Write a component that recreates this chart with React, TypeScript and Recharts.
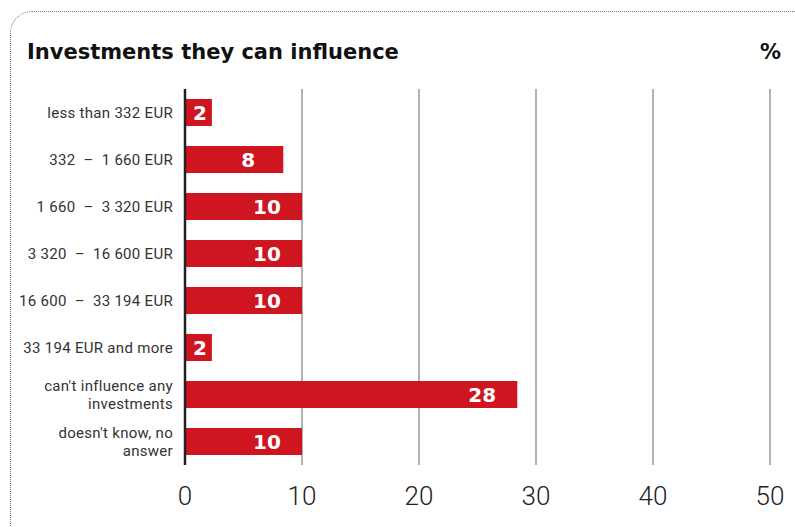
import { BarChart, Bar, XAxis, YAxis, CartesianGrid, LabelList } from "recharts";

const categories = [
  "less than 332 EUR",
  "332  –  1 660 EUR",
  "1 660  –  3 320 EUR",
  "3 320  –  16 600 EUR",
  "16 600  –  33 194 EUR",
  "33 194 EUR and more",
  "can't influence any\ninvestments",
  "doesn't know, no\nanswer",
];
const shares = [2.3, 8.4, 10, 10, 10, 2.3, 28.4, 10];
const xTicks = [0, 10, 20, 30, 40, 50];

const data = categories.map((name, i) => ({ name, value: shares[i] }));

const CategoryTick = (props: any) => {
  const { x, y, payload } = props;
  const lines = String(payload.value).split("\n");
  const lh = 18;
  const start = -((lines.length - 1) * lh) / 2;
  return (
    <text
      x={x}
      y={y}
      textAnchor="end"
      fill="#333"
      fontSize={15}
      letterSpacing={0.3}
      fontFamily="Roboto, sans-serif"
      style={{ whiteSpace: "pre" }}
    >
      {lines.map((l, i) => (
        <tspan key={i} x={x} dy={i === 0 ? start : lh} dominantBaseline="central">
          {l}
        </tspan>
      ))}
    </text>
  );
};

const BarValue = (props: any) => {
  const { x, y, width, height, value } = props;
  const w = Number(width);
  const short = w < 50;
  return (
    <text
      x={short ? x + 8 : x + w - 35}
      y={y + height / 2}
      dy="0.36em"
      textAnchor={short ? "start" : "middle"}
      fill="#fff"
      fontSize={20}
      fontWeight="bold"
      fontFamily="'DejaVu Sans', sans-serif"
    >
      {Math.round(value)}
    </text>
  );
};

export default function App() {
  return (
    <div
      style={{
        position: "absolute",
        left: 0,
        top: 0,
        width: 795,
        height: 527,
        overflow: "hidden",
        background: "#fff",
      }}
    >
      <div
        style={{
          position: "absolute",
          left: 10,
          top: 11,
          width: 900,
          height: 560,
          border: "1px dotted #777",
          borderRadius: 22,
        }}
      />
      <div
        style={{
          position: "absolute",
          left: 27,
          top: 40,
          fontFamily: "'DejaVu Sans', sans-serif",
          fontWeight: "bold",
          fontSize: 21,
          color: "#111",
        }}
      >
        Investments they can influence
      </div>
      <div
        style={{
          position: "absolute",
          left: 760,
          top: 40,
          fontFamily: "'DejaVu Sans', sans-serif",
          fontWeight: "bold",
          fontSize: 21,
          color: "#111",
        }}
      >
        %
      </div>
      <div style={{ position: "absolute", left: 0, top: 0 }}>
        <BarChart
          width={795}
          height={527}
          data={data}
          layout="vertical"
          margin={{ top: 89, right: 25, bottom: 0, left: 0 }}
        >
          <CartesianGrid horizontal={false} stroke="#999" strokeWidth={1.5} />
          <XAxis
            type="number"
            domain={[0, 50]}
            ticks={xTicks}
            axisLine={false}
            tickLine={false}
            tickSize={0}
            tickMargin={22}
            height={62}
            tick={{ fontSize: 26, fill: "#222", fontFamily: "Roboto, sans-serif", fontWeight: 300 }}
          />
          <YAxis
            type="category"
            dataKey="name"
            width={185}
            tickLine={false}
            tickSize={0}
            tickMargin={12}
            axisLine={{ stroke: "#222", strokeWidth: 2.5 }}
            tick={<CategoryTick />}
            interval={0}
          />
          <Bar dataKey="value" fill="#cf1520" barSize={27} isAnimationActive={false}>
            <LabelList dataKey="value" content={<BarValue />} />
          </Bar>
        </BarChart>
      </div>
    </div>
  );
}
